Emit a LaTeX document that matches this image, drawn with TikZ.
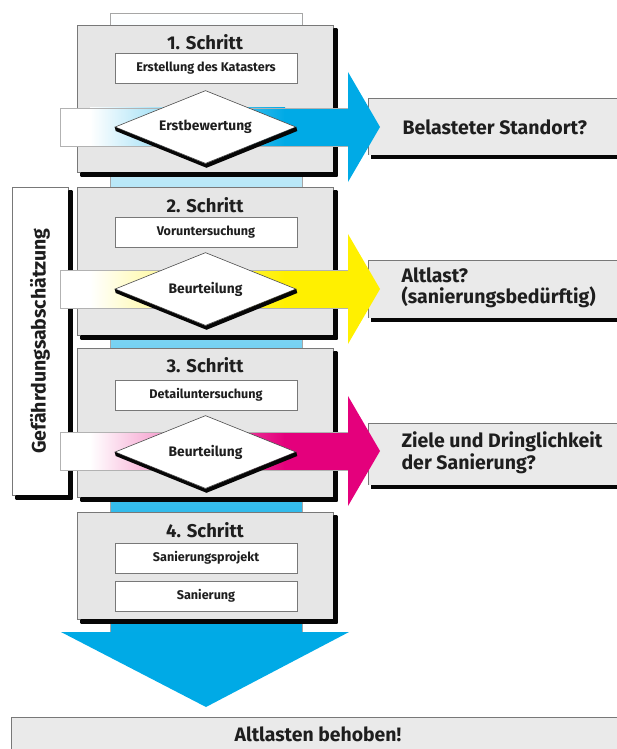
\documentclass[tikz,border=0pt]{standalone}
\usepackage{fontspec}
\setmainfont{Fira Sans}
\usetikzlibrary{shapes.geometric}

\definecolor{flowblue}{RGB}{0,170,230}
\definecolor{flowyellow}{RGB}{255,240,0}
\definecolor{flowmagenta}{RGB}{228,0,124}
\definecolor{boxgray}{RGB}{230,230,230}
\definecolor{resgray}{RGB}{234,234,234}
\definecolor{linegray}{RGB}{120,120,120}
\definecolor{inkdark}{RGB}{30,30,30}
\definecolor{shadowink}{RGB}{6,6,6}

% horizontal flow arrow: #1 = centre line (y), #2 = colour
\newcommand\flowarrow[2]{%
  \fill[white] (60,{#1-19}) rectangle (92,{#1+19});
  \shade[left color=white, right color=#2] (90,{#1-19}) rectangle (285,{#1+19});
  \fill[#2] (284,{#1-19}) rectangle (350,{#1+19});
  \fill[#2] (348,{#1-55}) -- (380,#1) -- (348,{#1+55}) -- cycle;
  \draw[black!30, line width=0.5pt] (348,{#1-19}) -- (60,{#1-19}) -- (60,{#1+19}) -- (348,{#1+19});
}
% L-shaped hard shadow along the right and lower side of a box node
\newcommand\boxshade[1]{%
  \shade[top color=shadowink, bottom color=shadowink] ([yshift=-4pt]#1.north east) rectangle ([xshift=4pt,yshift=-4pt]#1.south east);
  \shade[top color=shadowink, bottom color=shadowink] ([xshift=4pt]#1.south west) rectangle ([xshift=4pt,yshift=-4pt]#1.south east);
}
% hard shadow along the two lower edges of a decision diamond
\newcommand\diamondshade[1]{%
  \shade[top color=shadowink, bottom color=shadowink] (#1.west) -- (#1.south) -- (#1.east) -- ([shift={(1pt,-4pt)}]#1.east)
    -- ([shift={(1pt,-4pt)}]#1.south) -- ([shift={(1pt,-4pt)}]#1.west) -- cycle;
}

\begin{document}
\begin{tikzpicture}[x=1pt, y=-1pt, font=\bfseries,
  stepbox/.style={draw=linegray, line width=0.6pt, fill=boxgray, inner sep=0pt,
    minimum width=256pt},
  steptitle/.style={text=inkdark, font=\bfseries\fontsize{18.5}{21}\selectfont},
  taskbox/.style={text=inkdark, draw=linegray, line width=0.6pt, fill=white, inner sep=0pt,
    minimum width=182pt, minimum height=30pt, font=\bfseries\fontsize{12.6}{15}\selectfont},
  decision/.style={text=inkdark, diamond, aspect=2.5, draw=black!70, line width=0.6pt, fill=white,
    inner sep=0pt, minimum width=181pt, minimum height=73pt,
    font=\bfseries\fontsize{13.8}{16}\selectfont},
  restext/.style={text=inkdark, anchor=west, align=left, font=\bfseries\fontsize{19.5}{21.5}\selectfont}]

\useasboundingbox (0,0) rectangle (617,749);

% vertical flow band behind the steps
\shade[top color=white, bottom color=flowblue] (110,13) rectangle (302,633);
\draw[black!35, line width=0.5pt] (110,633) -- (110,13) -- (302,13) -- (302,633);

% downward arrow head
\fill[flowblue] (61,632) -- (349,632) -- (206,707) -- cycle;

% steps
\node[stepbox, minimum height=147pt] (s1) at (205,98.5) {};
\node[stepbox, minimum height=148pt] (s2) at (205,261) {};
\node[stepbox, minimum height=149pt] (s3) at (205,422.5) {};
\node[stepbox, minimum height=107pt] (s4) at (205,565.5) {};
\boxshade{s1}
\boxshade{s2}
\boxshade{s3}
\boxshade{s4}

\node[steptitle] (t1) at (205,42) {1. Schritt};
\node[steptitle] (t2) at (205,205) {2. Schritt};
\node[steptitle] (t3) at (205,365) {3. Schritt};
\node[steptitle] (t4) at (205,530) {4. Schritt};

\node[taskbox] (k1) at (206,68) {Erstellung des Katasters};
\node[taskbox] (k2) at (206,232) {Voruntersuchung};
\node[taskbox] (k3) at (206,395) {Detailuntersuchung};
\node[taskbox] (k4a) at (206,558) {Sanierungsprojekt};
\node[taskbox] (k4b) at (206,596) {Sanierung};

% assessment bracket on the left
\node[draw=linegray, line width=0.6pt, fill=white, minimum width=56pt, minimum height=308pt,
  inner sep=0pt] (ga) at (40,341) {};
\boxshade{ga}
\node[text=inkdark, rotate=90, font=\bfseries\fontsize{19.5}{21}\selectfont] (gatext) at (40,341) {Gefährdungsabschätzung};

% result boxes
\fill[shadowink] (371,155) rectangle (617,159);
\fill[resgray] (368,98) rectangle (617,155);
\draw[linegray, line width=0.6pt] (617,98) -- (368,98) -- (368,155);
\node[restext] (r1) at (399,127) {Belasteter Standort?};

\fill[shadowink] (371,318) rectangle (617,322);
\fill[resgray] (368,260) rectangle (617,318);
\draw[linegray, line width=0.6pt] (617,260) -- (368,260) -- (368,318);
\node[restext] (r2) at (398,288) {Altlast?\\(sanierungsbedürftig)};

\fill[shadowink] (371,485) rectangle (617,489);
\fill[resgray] (368,423) rectangle (617,485);
\draw[linegray, line width=0.6pt] (617,423) -- (368,423) -- (368,485);
\node[restext] (r3) at (398,453) {Ziele und Dringlichkeit\\der Sanierung?};

% flow arrows towards the results
\flowarrow{127}{flowblue}
\flowarrow{289}{flowyellow}
\flowarrow{451}{flowmagenta}

% decisions
\node[decision] (d1) at (205.5,127) {Erstbewertung};
\node[decision] (d2) at (205.5,289) {Beurteilung};
\node[decision] (d3) at (205.5,452) {Beurteilung};
\diamondshade{d1}
\diamondshade{d2}
\diamondshade{d3}

% final result
\fill[resgray] (11,717) rectangle (617,749);
\draw[linegray, line width=0.6pt] (617,717) -- (11,717) -- (11,749);
\node[text=inkdark, font=\bfseries\fontsize{19.4}{21}\selectfont] (fin) at (318,734) {Altlasten behoben!};

\end{tikzpicture}
\end{document}
